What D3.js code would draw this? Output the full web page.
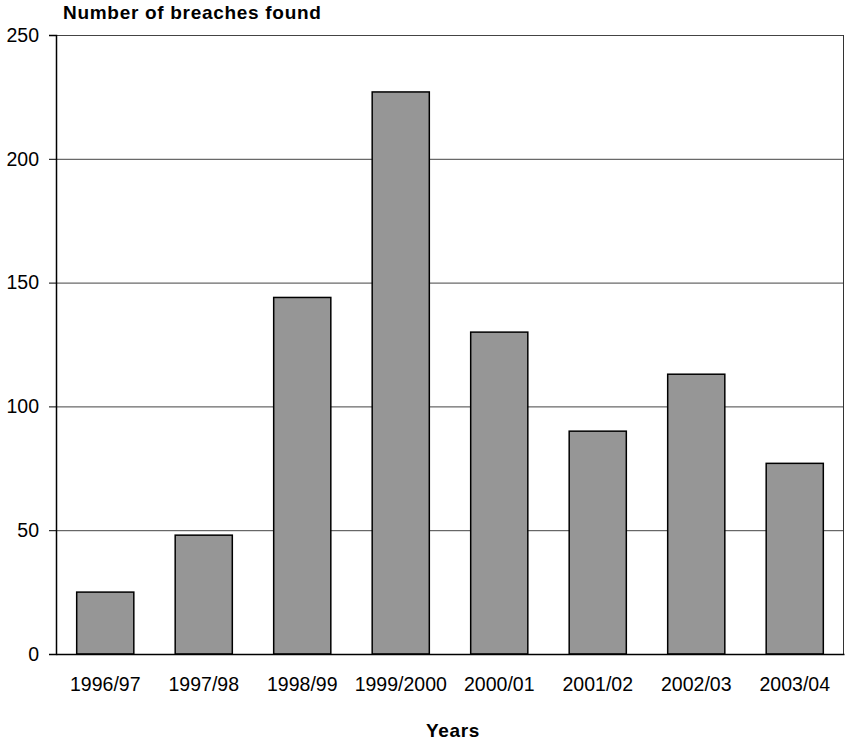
<!DOCTYPE html>
<html>
<head>
<meta charset="utf-8">
<script src="https://cdn.jsdelivr.net/npm/d3@7"></script>
<style>
  html, body { margin: 0; padding: 0; background: #fff; }
  text { font-family: "Liberation Sans", Arial, sans-serif; }
</style>
</head>
<body>
<svg id="chart" width="845" height="743"></svg>
<script>
// Breaches found per financial year
const years = ["1996/97", "1997/98", "1998/99", "1999/2000", "2000/01", "2001/02", "2002/03", "2003/04"];
const breaches = [25, 48, 144, 227, 130, 90, 113, 77];
const yTicks = [0, 50, 100, 150, 200, 250];

const svg = d3.select("#chart");
const margin = { left: 56, right: 1, top: 35, bottom: 89 };
const W = 845, H = 743;

const x = d3.scaleBand()
  .domain(years)
  .range([margin.left, W - margin.right])
  .paddingInner(0.42)
  .paddingOuter(0.21);

const y = d3.scaleLinear()
  .domain([0, 250])
  .range([H - margin.bottom, margin.top]);

// horizontal gridlines
svg.append("g")
  .selectAll("line")
  .data(yTicks.filter(t => t > 0))
  .join("line")
  .attr("x1", margin.left).attr("x2", W - margin.right)
  .attr("y1", d => y(d) + 0.5).attr("y2", d => y(d) + 0.5)
  .attr("stroke", "#444").attr("stroke-width", 1);

// right edge of the plot frame
svg.append("line")
  .attr("x1", W - margin.right - 0.5).attr("x2", W - margin.right - 0.5)
  .attr("y1", y(250)).attr("y2", y(0))
  .attr("stroke", "#333").attr("stroke-width", 1);

// bars
svg.append("g")
  .selectAll("rect")
  .data(years.map((k, i) => ({ k, v: breaches[i] })))
  .join("rect")
  .attr("x", d => x(d.k))
  .attr("width", x.bandwidth())
  .attr("y", d => y(d.v))
  .attr("height", d => y(0) - y(d.v))
  .attr("fill", "#969696")
  .attr("stroke", "#000")
  .attr("stroke-width", 1.5);

// y axis
const yAxis = svg.append("g")
  .attr("transform", `translate(${margin.left},0)`)
  .call(d3.axisLeft(y).tickValues(yTicks).tickSize(7).tickPadding(10));
yAxis.select(".domain").attr("stroke", "#000").attr("stroke-width", 1.5);
yAxis.selectAll(".tick line").attr("stroke", "#000");
yAxis.selectAll(".tick text")
  .attr("font-size", 19.5)
  .attr("fill", "#000")
  .style("font-family", "'Liberation Sans', Arial, sans-serif");

// x axis
const xAxis = svg.append("g")
  .attr("transform", `translate(0,${y(0)})`)
  .call(d3.axisBottom(x).tickSize(0).tickPadding(23).tickSizeOuter(0));
xAxis.select(".domain").attr("stroke", "#000").attr("stroke-width", 1.5);
xAxis.selectAll(".tick text")
  .attr("font-size", 19.5)
  .attr("fill", "#000")
  .style("font-family", "'Liberation Sans', Arial, sans-serif");

// titles
svg.append("text")
  .attr("x", 63).attr("y", 19)
  .attr("font-size", 19).attr("font-weight", "bold")
  .attr("letter-spacing", 0.7)
  .text("Number of breaches found");

svg.append("text")
  .attr("x", 453).attr("y", 737)
  .attr("text-anchor", "middle")
  .attr("font-size", 19).attr("font-weight", "bold")
  .attr("letter-spacing", 0.7)
  .text("Years");
</script>
</body>
</html>
